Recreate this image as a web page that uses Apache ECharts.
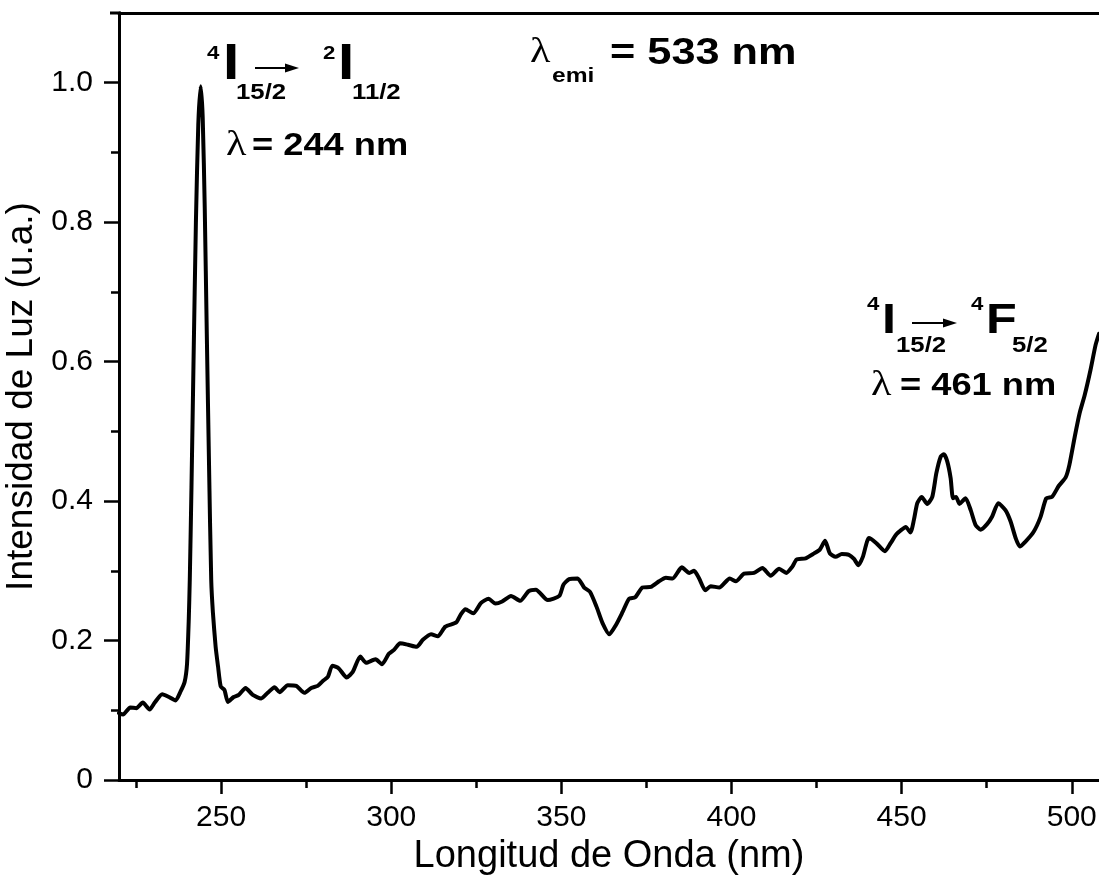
<!DOCTYPE html>
<html>
<head>
<meta charset="utf-8">
<script src="https://cdn.jsdelivr.net/npm/echarts@6.0.0/dist/echarts.min.js"></script>
<style>
  html, body { margin: 0; padding: 0; background: #ffffff; }
  #chart { width: 1099px; height: 876px; }
</style>
</head>
<body>
<div id="chart"></div>
<script>
// Excitation spectrum (emission monitored at 533 nm)
const wavelength = [
  220.0, 221.2, 223.3, 225.1, 227.0, 229.0, 230.5, 232.7, 234.7, 236.6,
  238.1, 239.3, 240.0, 240.5, 240.8, 241.3, 241.9, 242.6, 243.3, 244.0,
  244.6, 245.2, 245.8, 246.5, 247.1, 247.6, 248.4, 249.1, 249.9, 251.0,
  252.0, 253.7, 255.2, 257.2, 259.3, 261.8, 263.7, 265.7, 267.2, 269.6,
  272.1, 274.5, 276.5, 278.4, 279.9, 281.4, 282.7, 284.6, 286.9, 288.7,
  290.9, 292.6, 295.4, 297.3, 299.3, 300.9, 302.6, 304.9, 307.5, 309.3,
  311.7, 313.7, 315.9, 319.1, 320.5, 321.8, 324.1, 326.4, 328.6, 330.6,
  332.6, 335.2, 337.9, 340.4, 342.5, 346.0, 349.4, 350.6, 352.3, 354.8,
  356.7, 358.4, 360.3, 362.1, 364.1, 366.0, 368.0, 369.9, 371.7, 373.8,
  376.3, 378.7, 380.7, 382.7, 385.4, 387.6, 389.0, 390.5, 392.3, 393.9,
  396.4, 399.5, 401.3, 403.7, 406.6, 409.1, 411.5, 414.0, 416.1, 417.9,
  419.1, 421.8, 424.3, 425.9, 427.5, 428.9, 430.6, 432.4, 434.5, 436.0,
  437.3, 438.6, 440.4, 442.5, 445.1, 446.8, 448.4, 450.0, 451.2, 452.6,
  453.6, 454.6, 455.9, 457.5, 459.0, 460.2, 461.5, 462.4, 463.4, 464.4,
  465.1, 466.0, 467.0, 468.8, 470.3, 471.7, 473.2, 475.1, 476.6, 478.4,
  480.5, 482.0, 483.5, 484.7, 486.4, 488.8, 490.8, 492.5, 494.2, 496.2,
  498.2, 499.3, 500.9, 502.3, 503.8, 505.5, 507.0, 508.0
];
const intensity = [
  0.096, 0.094, 0.104, 0.103, 0.111, 0.101, 0.111, 0.123, 0.119, 0.114,
  0.127, 0.141, 0.167, 0.230, 0.287, 0.420, 0.600, 0.800, 0.940, 0.995,
  0.950, 0.820, 0.640, 0.440, 0.287, 0.240, 0.191, 0.163, 0.134, 0.129,
  0.112, 0.119, 0.122, 0.132, 0.122, 0.117, 0.125, 0.133, 0.126, 0.136,
  0.135, 0.125, 0.132, 0.135, 0.142, 0.148, 0.164, 0.160, 0.147, 0.155,
  0.177, 0.168, 0.173, 0.166, 0.181, 0.187, 0.196, 0.194, 0.191, 0.201,
  0.209, 0.206, 0.220, 0.226, 0.238, 0.245, 0.239, 0.254, 0.260, 0.253,
  0.256, 0.264, 0.257, 0.271, 0.273, 0.258, 0.264, 0.280, 0.288, 0.289,
  0.276, 0.270, 0.249, 0.225, 0.209, 0.222, 0.241, 0.260, 0.262, 0.276,
  0.277, 0.285, 0.290, 0.289, 0.305, 0.297, 0.300, 0.289, 0.272, 0.278,
  0.276, 0.289, 0.285, 0.296, 0.297, 0.304, 0.293, 0.303, 0.297, 0.306,
  0.316, 0.318, 0.325, 0.330, 0.343, 0.325, 0.320, 0.324, 0.323, 0.317,
  0.308, 0.320, 0.347, 0.340, 0.328, 0.340, 0.352, 0.359, 0.363, 0.355,
  0.373, 0.397, 0.406, 0.396, 0.406, 0.440, 0.464, 0.467, 0.457, 0.433,
  0.404, 0.406, 0.396, 0.404, 0.387, 0.366, 0.359, 0.367, 0.378, 0.397,
  0.387, 0.371, 0.347, 0.335, 0.342, 0.356, 0.377, 0.404, 0.406, 0.422,
  0.434, 0.452, 0.493, 0.526, 0.552, 0.588, 0.624, 0.640
];

const xMajorTicks = [250, 300, 350, 400, 450, 500];
const xMinorTicks = [225, 275, 325, 375, 425, 475];
const yMajorTicks = [0, 0.2, 0.4, 0.6, 0.8, 1.0];
const yMinorTicks = [0.1, 0.3, 0.5, 0.7, 0.9];

const xTitle = 'Longitud de Onda (nm)';
const yTitle = 'Intensidad de Luz (u.a.)';

const SANS = '"Liberation Sans", Arial, Helvetica, sans-serif';
const SERIF = '"Liberation Serif", "Times New Roman", serif';
const STRETCH = 1.17;   // the lettering is drawn slightly widened

function label(str, left, cy, size, opts) {
  opts = opts || {};
  return {
    type: 'text',
    x: left,
    y: cy,
    scaleX: STRETCH,
    z: 10,
    style: {
      text: str,
      fontSize: size,
      fontWeight: opts.weight || 'bold',
      fontFamily: opts.family || SANS,
      fill: '#000',
      align: 'left',
      verticalAlign: 'middle',
      textAlign: 'left',
      textVerticalAlign: 'middle'
    }
  };
}

function arrow(x1, x2, y) {
  return [
    { type: 'line', z: 10, shape: { x1: x1, y1: y, x2: x2 - 12, y2: y },
      style: { stroke: '#000', lineWidth: 2 } },
    { type: 'polygon', z: 10,
      shape: { points: [[x2 - 14, y - 4.5], [x2, y], [x2 - 14, y + 4.5]] },
      style: { fill: '#000' } }
  ];
}

const axisColor = '#000';
const tickFont = { color: '#000', fontSize: 30, fontFamily: SANS };

const chart = echarts.init(document.getElementById('chart'), null, { renderer: 'canvas' });

chart.setOption({
  backgroundColor: '#ffffff',
  animation: false,
  grid: { left: 119, right: 0, top: 13, bottom: 96, outerBoundsMode: 'none', containLabel: false },
  xAxis: [
    {
      type: 'value', position: 'bottom', min: 220, max: 508,
      name: xTitle, nameLocation: 'middle', nameGap: 44,
      nameTextStyle: { color: '#000', fontSize: 38, fontFamily: SANS },
      axisLine: { show: true, onZero: false, lineStyle: { color: axisColor, width: 3 } },
      axisTick: { show: true, inside: false, length: 14, customValues: xMajorTicks,
                  lineStyle: { color: axisColor, width: 2.5 } },
      axisLabel: Object.assign({ margin: 23, customValues: xMajorTicks }, tickFont),
      splitLine: { show: false }
    },
    {
      type: 'value', position: 'bottom', min: 220, max: 508,
      axisLine: { show: false },
      axisTick: { show: true, inside: false, length: 8, customValues: xMinorTicks,
                  lineStyle: { color: axisColor, width: 2.5 } },
      axisLabel: { show: false },
      splitLine: { show: false }
    },
    {
      type: 'value', position: 'top', min: 220, max: 508,
      axisLine: { show: true, onZero: false, lineStyle: { color: axisColor, width: 3 } },
      axisTick: { show: false },
      axisLabel: { show: false },
      splitLine: { show: false }
    }
  ],
  yAxis: [
    {
      type: 'value', position: 'left', min: 0, max: 1.1,
      name: yTitle, nameLocation: 'middle', nameGap: 74,
      nameTextStyle: { color: '#000', fontSize: 37, fontFamily: SANS },
      axisLine: { show: true, onZero: false, lineStyle: { color: axisColor, width: 3 } },
      axisTick: { show: true, inside: false, length: 15, customValues: yMajorTicks,
                  lineStyle: { color: axisColor, width: 2.5 } },
      axisLabel: Object.assign({
        margin: 26, customValues: yMajorTicks,
        formatter: function (v) { return v === 0 ? '0' : v.toFixed(1); }
      }, tickFont),
      splitLine: { show: false }
    },
    {
      type: 'value', position: 'left', min: 0, max: 1.1,
      axisLine: { show: false },
      axisTick: { show: true, inside: false, length: 8, customValues: yMinorTicks,
                  lineStyle: { color: axisColor, width: 2.5 } },
      axisLabel: { show: false },
      splitLine: { show: false }
    }
  ],
  series: [
    {
      type: 'line',
      xAxisIndex: 0,
      yAxisIndex: 0,
      data: wavelength.map(function (w, i) { return [w, intensity[i]]; }),
      showSymbol: false,
      smooth: 0.2,
      clip: true,
      lineStyle: { color: '#000', width: 4, join: 'round', cap: 'round' }
    }
  ],
  graphic: [
    // the top frame line runs a little past the left axis
    { type: 'line', z: 5, shape: { x1: 110, y1: 13, x2: 121, y2: 13 },
      style: { stroke: '#000', lineWidth: 3 } },

    // ⁴I15/2 → ²I11/2 at the main peak
    label('4', 207, 54, 19),
    label('I', 223, 65, 50),
    label('15/2', 236, 93, 22),
    ...arrow(255, 299, 68),
    label('2', 323, 54, 19),
    label('I', 338, 65, 50),
    label('11/2', 352, 93, 22),
    label('\u03bb', 226, 146, 36, { weight: 'normal', family: SERIF }),
    label('= 244 nm', 252, 146, 31),

    // emission wavelength
    label('\u03bb', 530, 53, 36, { weight: 'normal', family: SERIF }),
    label('emi', 552, 76, 21),
    label('= 533 nm', 610, 54, 37),

    // ⁴I15/2 → ⁴F5/2 band
    label('4', 867, 305, 19),
    label('I', 882, 321, 43),
    label('15/2', 896, 346, 22),
    ...arrow(912, 957, 323),
    label('4', 971, 305, 19),
    label('F', 986, 321, 43),
    label('5/2', 1012, 346, 22),
    label('\u03bb', 871, 386, 36, { weight: 'normal', family: SERIF }),
    label('= 461 nm', 900, 386, 31)
  ]
});
</script>
</body>
</html>
